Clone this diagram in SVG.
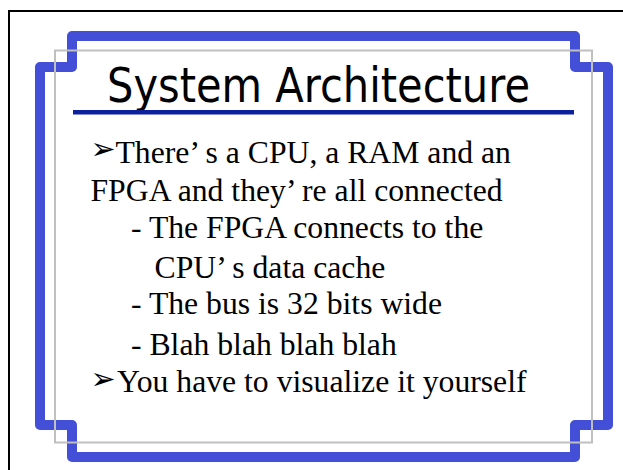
<svg xmlns="http://www.w3.org/2000/svg" width="623" height="470" viewBox="0 0 623 470">
  <style>
    .frame { fill: none; stroke: #000000; stroke-width: 2; }
    .blue { fill: none; stroke: #434fd6; stroke-width: 10; stroke-linejoin: round; }
    .gray { fill: none; stroke: #c0c0c0; stroke-width: 2; }
    .title { font-family: "DejaVu Sans", "Liberation Sans", sans-serif; font-size: 48px; fill: #000000; }
    .body { font-family: "Liberation Serif", "Times New Roman", serif; font-size: 31.7px; fill: #000000; }
    .bullet { font-family: "DejaVu Sans", sans-serif; font-size: 30px; fill: #000000; }
  </style>
  <rect width="623" height="470" fill="#ffffff"/>
  <g id="slide-frame">
    <rect class="frame" x="9" y="11" width="640" height="480"/>
  </g>
  <g id="decoration">
    <path class="blue" d="M72,36 H575 V67 H608 V425 H575 V457 H72 V425 H40 V67 H72 Z"/>
    <rect class="gray" x="55" y="50.5" width="537" height="392"/>
  </g>
  <g id="title">
    <text class="title" x="107" y="102" textLength="423" lengthAdjust="spacingAndGlyphs">System Architecture</text>
    <rect x="73" y="110" width="501" height="4.5" fill="#0c1f9c"/>
  </g>
  <g id="body">
    <text class="bullet" x="90.5" y="159">➢</text>
    <text class="body" x="115.5" y="163">There’ s a CPU, a RAM and an</text>
    <text class="body" x="90.5" y="200.5">FPGA and they’ re all connected</text>
    <text class="body" x="131" y="238">- The FPGA connects to the</text>
    <text class="body" x="154.5" y="278">CPU’ s data cache</text>
    <text class="body" x="131" y="314">- The bus is 32 bits wide</text>
    <text class="body" x="131" y="355">- Blah blah blah blah</text>
    <text class="bullet" x="90.5" y="389">➢</text>
    <text class="body" x="117" y="392">You have to visualize it yourself</text>
  </g>
</svg>
